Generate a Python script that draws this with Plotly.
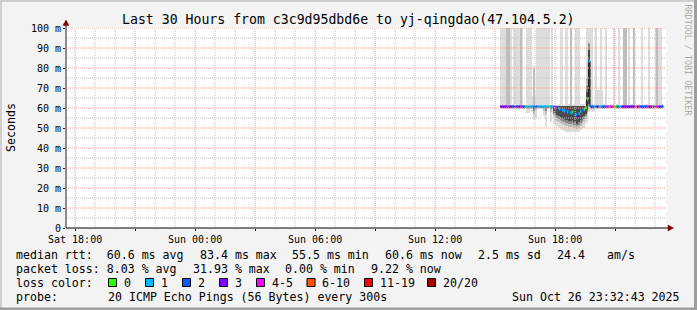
import pandas as pd
import plotly.graph_objects as go

# ---------------- data ----------------
data_start = "2025-10-26 15:15:00"   # first 5-minute step
step_seconds = 300
range_start = "2025-10-25 17:32:43"
range_end = "2025-10-26 23:32:43"

median_ms = [
    60.6, 60.6, 60.6, 60.6, 60.5, 60.6, 60.6, 60.6, 60.6, 60.6,
    60.6, 60.6, 60.6, 60.6, 60.6, 60.6, 60.5, 60.5, 60.6, 60.6,
    60.5, 60.6, 60.6, 60.6, 60.6, 60.6, 60.6, 60.6, 60.6, 60.6,
    60.6, 60.6, 60.4, 60.2, 60.0, 59.6, 59.2, 59.0, 58.6, 58.2,
    58.0, 57.8, 57.6, 58.0, 57.0, 56.6, 55.5, 57.2, 58.4, 58.9,
    59.4, 60.2, 64.5, 83.4, 60.6, 60.6, 60.6, 60.6, 60.6, 60.6,
    60.6, 60.6, 60.6, 60.6, 60.6, 60.6, 60.6, 60.6, 60.6, 60.6,
    60.6, 60.6, 60.6, 60.6, 60.6, 60.6, 60.6, 60.6, 60.6, 60.6,
    60.6, 60.6, 60.6, 60.6, 60.6, 60.6, 60.6, 60.6, 60.6, 60.6,
    60.6, 60.6, 60.6, 60.6, 60.6, 60.6, 60.6, 60.6,
]
lost_pings = [
    3, 3, 3, 3, 4, 2, 3, 2, 3, 2,
    2, 3, 4, 2, 2, 0, 1, 1, 1, 1,
    2, 2, 1, 1, 1, 1, 1, 1, 1, 0,
    1, 1, 4, 2, 2, 1, 2, 1, 1, 2,
    1, 2, 1, 0, 2, 1, 3, 1, 1, 2,
    0, 0, 0, 1, 2, 2, 1, 2, 3, 1,
    1, 2, 2, 4, 4, 1, 4, 4, 0, 0,
    2, 1, 1, 3, 3, 3, 3, 3, 3, 3,
    3, 6, 3, 4, 2, 2, 2, 2, 4, 3,
    3, 6, 2, 4, 4, 3, 2, 2,
]
smoke_top_light = [
    115, 115, 115, 115, 115, 115, 115, 62, 115, 115,
    115, 115, 115, 115, 61.5, 61.5, 115, 115, 115, 66,
    81, 66, 115, 115, 115, 115, 115, 115, 115, 115,
    61.5, 115, 61.5, 61.5, 61.5, 62, 115, 115, 61.5, 115,
    115, 62, 115, 61.5, 62, 115, 115, 115, 62, 62,
    62, 63, 115, 115, 115, 115, 62, 115, 69, 69,
    115, 69, 62, 115, 61.5, 61.5, 62, 61.5, 115, 61.5,
    62, 115, 61.5, 61.5, 115, 115, 61.5, 115, 61.5, 62,
    115, 61.5, 61.5, 62, 61.5, 115, 61.5, 61.5, 62, 115,
    61.5, 61.5, 62, 115, 115, 115, 115, 62,
]
smoke_top_mid = [
    61, 61, 61, 61, 115, 115, 61, 61, 61, 61,
    61, 61, 115, 61, 61, 61, 61, 61, 61, 61,
    80, 61, 61, 61, 61, 61, 61, 61, 61, 61,
    61, 61, 61, 61, 61, 61, 61, 61, 61, 61,
    61, 61, 115, 61, 61, 61, 61, 61, 61, 61,
    61, 61, 75, 93, 61, 61, 61, 61, 61, 61,
    61, 61, 61, 61, 61, 61, 61, 61, 61, 61,
    61, 61, 61, 61, 115, 115, 61, 61, 61, 61,
    115, 61, 61, 61, 61, 61, 61, 61, 61, 61,
    61, 61, 61, 61, 115, 61, 61, 61,
]
smoke_top_shade = [
    60.8, 60.8, 60.8, 60.8, 60.8, 60.8, 60.8, 60.8, 60.8, 60.8,
    60.8, 60.8, 60.8, 60.8, 60.8, 60.8, 60.8, 60.8, 60.8, 60.8,
    60.8, 60.8, 60.8, 60.8, 60.8, 60.8, 60.8, 60.8, 60.8, 60.8,
    60.8, 60.8, 60.8, 60.8, 60.8, 60.8, 60.8, 60.8, 60.8, 60.8,
    60.8, 60.8, 60.8, 60.8, 60.8, 60.8, 60.8, 60.8, 60.8, 60.8,
    60.8, 60.8, 71, 92, 60.8, 60.8, 60.8, 60.8, 60.8, 60.8,
    60.8, 60.8, 60.8, 60.8, 60.8, 60.8, 60.8, 60.8, 60.8, 60.8,
    60.8, 60.8, 60.8, 60.8, 60.8, 60.8, 60.8, 60.8, 60.8, 60.8,
    60.8, 60.8, 60.8, 60.8, 60.8, 60.8, 60.8, 60.8, 60.8, 60.8,
    60.8, 60.8, 60.8, 60.8, 60.8, 60.8, 60.8, 60.8,
]
smoke_top_dark = [
    60.8, 60.8, 60.8, 60.8, 60.8, 60.8, 60.8, 60.8, 60.8, 60.8,
    60.8, 60.8, 60.8, 60.8, 60.8, 60.8, 60.8, 60.8, 60.8, 60.8,
    60.8, 60.8, 60.8, 60.8, 60.8, 60.8, 60.8, 60.8, 60.8, 60.8,
    60.8, 60.8, 60.8, 60.8, 60.8, 60.8, 60.8, 60.8, 60.8, 60.8,
    60.8, 60.8, 60.8, 60.8, 60.8, 60.8, 60.8, 60.8, 60.8, 60.8,
    60.8, 60.8, 68, 89, 60.8, 60.8, 60.8, 60.8, 60.8, 60.8,
    60.8, 60.8, 60.8, 60.8, 60.8, 60.8, 60.8, 60.8, 60.8, 60.8,
    60.8, 60.8, 60.8, 60.8, 60.8, 60.8, 60.8, 60.8, 60.8, 60.8,
    60.8, 60.8, 60.8, 60.8, 60.8, 60.8, 60.8, 60.8, 60.8, 60.8,
    60.8, 60.8, 60.8, 60.8, 60.8, 60.8, 60.8, 60.8,
]
smoke_bot_dark = [
    60.4, 60.4, 60.4, 60.4, 60.4, 60.4, 60.4, 60.4, 60.4, 60.4,
    60.4, 60.4, 60.4, 60.4, 60.4, 60.4, 60.4, 60.4, 60.4, 60.4,
    60.4, 60.4, 60.4, 60.4, 60.4, 60.4, 60.4, 60.4, 60.4, 60.4,
    60.4, 60.4, 58.5, 57.5, 56.5, 56, 55.5, 55, 54.5, 54,
    54, 53.5, 53.5, 54, 53, 53, 52, 53, 54, 55,
    56, 57, 59, 62, 60.4, 60.4, 60.4, 60.4, 60.4, 60.4,
    60.4, 60.4, 60.4, 60.4, 60.4, 60.4, 60.4, 60.4, 60.4, 60.4,
    60.4, 60.4, 60.4, 60.4, 60.4, 60.4, 60.4, 60.4, 60.4, 60.4,
    60.4, 60.4, 60.4, 60.4, 60.4, 60.4, 60.4, 60.4, 60.4, 60.4,
    60.4, 60.4, 60.4, 60.4, 60.4, 60.4, 60.4, 60.4,
]
smoke_bot_shade = [
    60.4, 60.4, 60.4, 60.4, 60.4, 60.4, 60.4, 60.4, 60.4, 60.4,
    60.4, 60.4, 60.4, 60.4, 60.4, 60.4, 60.4, 60.4, 60.4, 60.4,
    58.5, 60.4, 60.4, 60.4, 60.4, 60.4, 60.4, 58.5, 60.4, 60.4,
    59.5, 60.4, 57, 56, 55, 54.5, 54, 53.5, 53, 52.5,
    52.5, 52, 52, 52.5, 51.5, 51.5, 51, 51.5, 52.5, 53.5,
    54.5, 56, 58, 61, 60.4, 60, 60.4, 60.4, 60.4, 60.4,
    60.4, 60.4, 60.4, 60.4, 60.4, 60.4, 60.4, 60.4, 60.4, 60.4,
    60.4, 60.4, 60.4, 60.4, 60.4, 60.4, 60.4, 60.4, 60.4, 60.4,
    60.4, 60.4, 60.4, 60.4, 60.4, 60.4, 60.4, 60.4, 60.4, 60.4,
    60.4, 60.4, 60.4, 60.4, 60.4, 60.4, 60.4, 60.4,
]
smoke_bot_mid = [
    60.2, 60.2, 60.2, 60.2, 60.2, 60.2, 60.2, 60.2, 60.2, 60.2,
    60.2, 60.2, 60.2, 60.2, 60.2, 60.2, 60.2, 60.2, 60.2, 60.2,
    57, 59, 60.2, 60.2, 60.2, 60.2, 58.5, 57, 60.2, 60.2,
    58, 60.2, 56, 55, 53.5, 53, 52.5, 52, 51.5, 51,
    51, 50.5, 50.5, 51, 50, 50, 49.5, 50, 51, 52,
    53, 54.5, 57, 60, 60.2, 59.5, 59.8, 60.2, 60.2, 60.2,
    60.2, 60.2, 60.2, 60.2, 60.2, 60.2, 60.2, 60.2, 60.2, 60.2,
    60.2, 60.2, 60.2, 60.2, 60.2, 60.2, 60.2, 60.2, 60.2, 60.2,
    60.2, 60.2, 60.2, 60.2, 60.2, 60.2, 60.2, 60.2, 60.2, 60.2,
    60.2, 60.2, 60.2, 60.2, 60.2, 60.2, 60.2, 60.2,
]
smoke_bot_light = [
    60, 60, 60, 60, 60, 60, 60, 60, 60, 60,
    60, 60, 60, 60, 60, 60, 57.3, 57.3, 60, 58,
    54, 55, 60, 60, 60, 60, 55.8, 50.7, 60, 60,
    53.2, 57, 52, 51.5, 51, 50, 49.5, 49, 48.5, 48,
    48, 48, 48, 48.5, 48, 48, 48, 48, 49, 49.5,
    50, 52, 53, 58, 58.5, 58.2, 58.5, 60, 60, 60,
    60, 60, 60, 60, 60, 60, 60, 60, 60, 60,
    60, 60, 60, 60, 60, 60, 60, 60, 60, 60,
    60, 60, 60, 60, 60, 60, 60, 60, 60, 60,
    60, 60, 60, 60, 60, 60, 60, 60,
]

y_tick_vals = [0, 10, 20, 30, 40, 50, 60, 70, 80, 90, 100]
y_tick_text = ["0", "10 m", "20 m", "30 m", "40 m", "50 m", "60 m", "70 m", "80 m", "90 m", "100 m"]
x_tick_vals = ["2025-10-25 18:00", "2025-10-25 21:00", "2025-10-26 00:00", "2025-10-26 03:00",
               "2025-10-26 06:00", "2025-10-26 09:00", "2025-10-26 12:00", "2025-10-26 15:00",
               "2025-10-26 18:00", "2025-10-26 21:00"]
x_tick_text = ["Sat 18:00", "", "Sun 00:00", "", "Sun 06:00", "", "Sun 12:00", "", "Sun 18:00", ""]

loss_labels = ["0", "1", "2", "3", "4-5", "6-10", "11-19", "20/20"]
loss_colors = ["#26ff00", "#00b8ff", "#0059ff", "#7e00ff", "#ff00ff", "#ff5500", "#ff0000", "#a10000"]

title_text = "Last 30 Hours from c3c9d95dbd6e to yj-qingdao(47.104.5.2)"
rtt_items = ["median rtt:  60.6 ms avg", "83.4 ms max", "55.5 ms min", "60.6 ms now",
             "2.5 ms sd", "24.4", "am/s"]
loss_items = ["packet loss: 8.03 % avg", "31.93 % max", "0.00 % min", "9.22 % now"]
probe_items = ["probe:", "20 ICMP Echo Pings (56 Bytes) every 300s"]
stamp_text = "Sun Oct 26 23:32:43 2025"

# ---------------- helpers ----------------
FONT = "DejaVu Sans Mono"
L, T, W, H = 66, 28, 600, 200


def px(x):
    return (x - L) / W


def py(y):
    return (T + H - y) / H


def loss_bucket(n):
    if n <= 3:
        return n
    if n <= 5:
        return 4
    if n <= 10:
        return 5
    if n <= 19:
        return 6
    return 7


t0 = pd.Timestamp(data_start)
step = pd.Timedelta(seconds=step_seconds)
n = len(median_ms)
starts = [t0 + step * i for i in range(n)]
ends = [s + step for s in starts]
centers = [s + step / 2 for s in starts]
fmt = lambda t: t.strftime("%Y-%m-%d %H:%M:%S")
xc = [fmt(t) for t in centers]

fig = go.Figure()

# smoke layers
for bots, tops, col in [
    (smoke_bot_light, smoke_top_light, "#dddddd"),
    (smoke_bot_mid, smoke_top_mid, "#bdbdbd"),
    (smoke_bot_shade, smoke_top_shade, "#8a8a8a"),
    (smoke_bot_dark, smoke_top_dark, "#4a4a4a"),
]:
    fig.add_trace(go.Bar(
        x=xc, base=bots, y=[t - b for t, b in zip(tops, bots)],
        width=step_seconds * 1000, marker=dict(color=col, line=dict(width=0)),
        hoverinfo="skip",
    ))

# thin dark median step line
fig.add_trace(go.Scatter(
    x=[fmt(s) for s in starts] + [fmt(ends[-1])],
    y=median_ms + [median_ms[-1]],
    mode="lines", line=dict(color="#202020", width=1, shape="hv"), hoverinfo="skip",
))

# coloured median segments by loss
for b in range(len(loss_labels)):
    xs, ys = [], []
    for i in range(n):
        if loss_bucket(lost_pings[i]) == b:
            xs += [fmt(starts[i]), fmt(ends[i]), None]
            ys += [median_ms[i], median_ms[i], None]
    if xs:
        fig.add_trace(go.Scatter(x=xs, y=ys, mode="lines",
                                 line=dict(color=loss_colors[b], width=3), hoverinfo="skip"))

shapes = []
GRID = "#c4c4c4"
MGRID = "#e6a3a3"
# vertical grid
hours = pd.date_range("2025-10-25 18:00", "2025-10-26 23:00", freq="1h")
for h in hours:
    major = h.hour % 3 == 0
    shapes.append(dict(type="line", xref="x", yref="paper", x0=fmt(h), x1=fmt(h), y0=0, y1=1,
                       line=dict(color=MGRID if major else GRID, width=1, dash="1px,1px"), layer="above"))
for v in range(5, 101, 5):
    major = v % 10 == 0
    shapes.append(dict(type="line", xref="paper", yref="y", x0=0, x1=1, y0=v, y1=v,
                       line=dict(color=MGRID if major else GRID, width=1, dash="1px,1px"), layer="above"))
# axes + arrows
shapes.append(dict(type="line", xref="paper", yref="paper", x0=0, x1=0, y0=0, y1=py(22),
                   line=dict(color="#202020", width=1), layer="above"))
shapes.append(dict(type="line", xref="paper", yref="paper", x0=0, x1=px(669), y0=0, y1=0,
                   line=dict(color="#000000", width=1), layer="above"))
shapes.append(dict(type="path", xref="paper", yref="paper",
                   path=f"M {px(63)} {py(25.5)} L {px(66)} {py(20)} L {px(69)} {py(25.5)} Z",
                   fillcolor="#7f0000", line=dict(color="#7f0000", width=0.5), layer="above"))
shapes.append(dict(type="path", xref="paper", yref="paper",
                   path=f"M {px(668)} {py(225)} L {px(673.5)} {py(228)} L {px(668)} {py(231)} Z",
                   fillcolor="#7f0000", line=dict(color="#7f0000", width=0.5), layer="above"))
# frame shading
shapes.append(dict(type="rect", xref="paper", yref="paper", x0=px(0), x1=px(697), y0=py(0), y1=py(2),
                   fillcolor="#cfcfcf", line=dict(width=0), layer="below"))
shapes.append(dict(type="rect", xref="paper", yref="paper", x0=px(0), x1=px(2), y0=py(0), y1=py(310),
                   fillcolor="#cfcfcf", line=dict(width=0), layer="below"))
shapes.append(dict(type="rect", xref="paper", yref="paper", x0=px(694), x1=px(697), y0=py(0), y1=py(310),
                   fillcolor="#9e9e9e", line=dict(width=0), layer="below"))
shapes.append(dict(type="rect", xref="paper", yref="paper", x0=px(0), x1=px(697), y0=py(307.5), y1=py(310),
                   fillcolor="#9e9e9e", line=dict(width=0), layer="below"))

# loss colour legend boxes
box_x = [108.5, 145.5, 182.5, 219.5, 256.5, 307.0, 364.5, 427.5]
for bx, col in zip(box_x, loss_colors):
    shapes.append(dict(type="rect", xref="paper", yref="paper", x0=px(bx), x1=px(bx + 8),
                       y0=py(286.5), y1=py(278.5), fillcolor=col,
                       line=dict(color="#000000", width=1), layer="above"))

ann = []


def text(x, y, s, size=11.6, anchor="left", color="#000000", angle=0):
    ann.append(dict(xref="paper", yref="paper", x=px(x), y=py(y), text=s, showarrow=False,
                    xanchor=anchor, yanchor="middle", borderpad=0, borderwidth=0, textangle=angle,
                    font=dict(family=FONT, size=size, color=color)))


text(348.5, 19, title_text, size=13.2, anchor="center")
text(11, 128, "Seconds", anchor="center", angle=-90)
text(687.5, 60, "RRDTOOL / TOBI OETIKER", size=8.4, anchor="center", color="#aaaaaa", angle=90)

row_y = [254.7, 268.7, 282.7, 296.5]
for x, s in zip([16, 199.5, 292.3, 385.1, 477.9, 556.7, 607.0], rtt_items):
    text(x, row_y[0], s)
for x, s in zip([16, 192.5, 285.3, 371.1], loss_items):
    text(x, row_y[1], s)
text(16, row_y[2], "loss color:")
for bx, lab in zip(box_x, loss_labels):
    text(bx + 15.2, row_y[2], lab)
for x, s in zip([16, 107.6], probe_items):
    text(x, row_y[3], s)
text(680, row_y[3], stamp_text, anchor="right")

fig.update_layout(
    width=697, height=310,
    margin=dict(l=L, r=697 - L - W, t=T, b=310 - T - H, pad=0),
    paper_bgcolor="#f3f3f3", plot_bgcolor="#ffffff",
    showlegend=False, barmode="overlay", bargap=0,
    font=dict(family=FONT, size=10, color="#000000"),
    shapes=shapes, annotations=ann,
    xaxis=dict(type="date", range=[range_start, range_end], tickmode="array",
               tickvals=x_tick_vals, ticktext=x_tick_text, showgrid=False, zeroline=False,
               showline=False, ticks="outside", ticklen=2, tickcolor="#202020",
               tickfont=dict(family=FONT, size=10), fixedrange=True),
    yaxis=dict(range=[0, 100], tickmode="array", tickvals=y_tick_vals, ticktext=y_tick_text,
               showgrid=False, zeroline=False, showline=False, ticks="outside", ticklen=2,
               tickcolor="#202020", tickfont=dict(family=FONT, size=10), fixedrange=True),
)

fig.write_html("out.html")
